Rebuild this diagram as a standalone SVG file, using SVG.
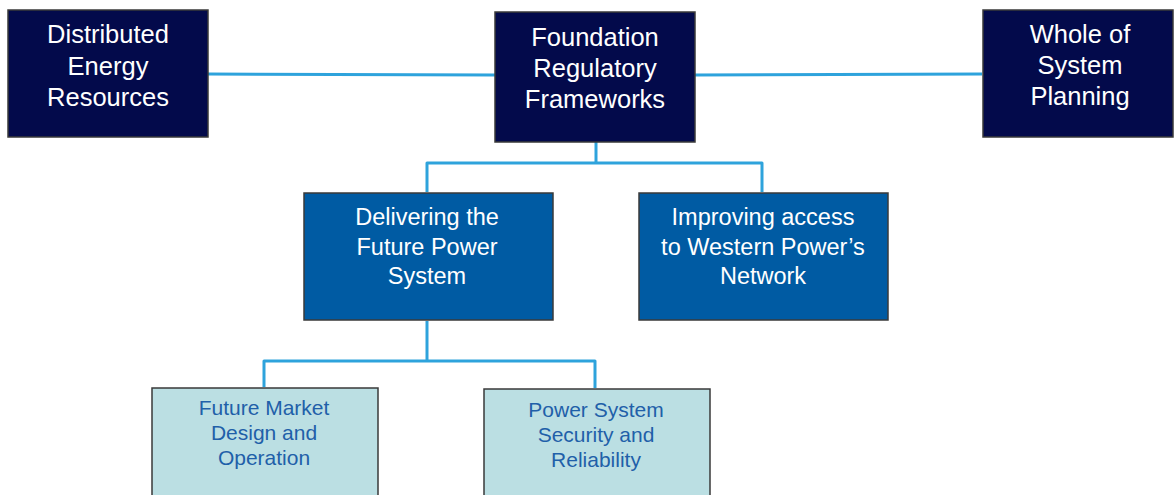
<svg xmlns="http://www.w3.org/2000/svg" width="1175" height="495" viewBox="0 0 1175 495">
  <style>
    .box { stroke: #3a3a3a; stroke-width: 1.5; }
    .navy { fill: #030a4b; }
    .mid { fill: #005ba3; }
    .light { fill: #bbdfe3; }
    .t { font-family: "Liberation Sans", Arial, sans-serif; text-anchor: middle; }
    .tw { fill: #ffffff; }
    .tb { fill: #1f60a9; }
    .f25 { font-size: 25.5px; }
    .f23 { font-size: 23.5px; }
    .f20 { font-size: 21px; }
    .link { fill: none; stroke: #2ea3dc; stroke-width: 3; stroke-linejoin: round; }
  </style>

  <rect width="1175" height="495" fill="#ffffff"/>

  <g id="connectors">
    <line class="link" x1="208" y1="74" x2="495" y2="75"/>
    <line class="link" x1="695" y1="75" x2="982" y2="74"/>
    <path class="link" d="M596 142 V163"/>
    <path class="link" d="M427 192 V163 H762 V192"/>
    <path class="link" d="M427 321 V361"/>
    <path class="link" d="M264 387 V361 H595 V388"/>
  </g>

  <g id="distributed-energy-resources">
    <rect class="box navy" x="8" y="10" width="200" height="127"/>
    <text class="t tw f25" x="108" y="43">Distributed</text>
    <text class="t tw f25" x="108" y="75">Energy</text>
    <text class="t tw f25" x="108" y="106">Resources</text>
  </g>

  <g id="foundation-regulatory-frameworks">
    <rect class="box navy" x="495" y="12" width="200" height="130"/>
    <text class="t tw f25" x="595" y="46">Foundation</text>
    <text class="t tw f25" x="595" y="77">Regulatory</text>
    <text class="t tw f25" x="595" y="108">Frameworks</text>
  </g>

  <g id="whole-of-system-planning">
    <rect class="box navy" x="983" y="10" width="190" height="127"/>
    <text class="t tw f25" x="1080" y="43">Whole of</text>
    <text class="t tw f25" x="1080" y="74">System</text>
    <text class="t tw f25" x="1080" y="105">Planning</text>
  </g>

  <g id="delivering-future-power-system">
    <rect class="box mid" x="304" y="193" width="249" height="127"/>
    <text class="t tw f23" x="427" y="225">Delivering the</text>
    <text class="t tw f23" x="427" y="255">Future Power</text>
    <text class="t tw f23" x="427" y="284">System</text>
  </g>

  <g id="improving-network-access">
    <rect class="box mid" x="639" y="193" width="249" height="127"/>
    <text class="t tw f23" x="763" y="225">Improving access</text>
    <text class="t tw f23" x="763" y="255">to Western Power’s</text>
    <text class="t tw f23" x="763" y="284">Network</text>
  </g>

  <g id="future-market-design">
    <rect class="box light" x="152" y="388" width="226" height="110"/>
    <text class="t tb f20" x="264" y="415">Future Market</text>
    <text class="t tb f20" x="264" y="440">Design and</text>
    <text class="t tb f20" x="264" y="465">Operation</text>
  </g>

  <g id="power-system-security">
    <rect class="box light" x="484" y="389" width="226" height="110"/>
    <text class="t tb f20" x="596" y="417">Power System</text>
    <text class="t tb f20" x="596" y="442">Security and</text>
    <text class="t tb f20" x="596" y="467">Reliability</text>
  </g>
</svg>
